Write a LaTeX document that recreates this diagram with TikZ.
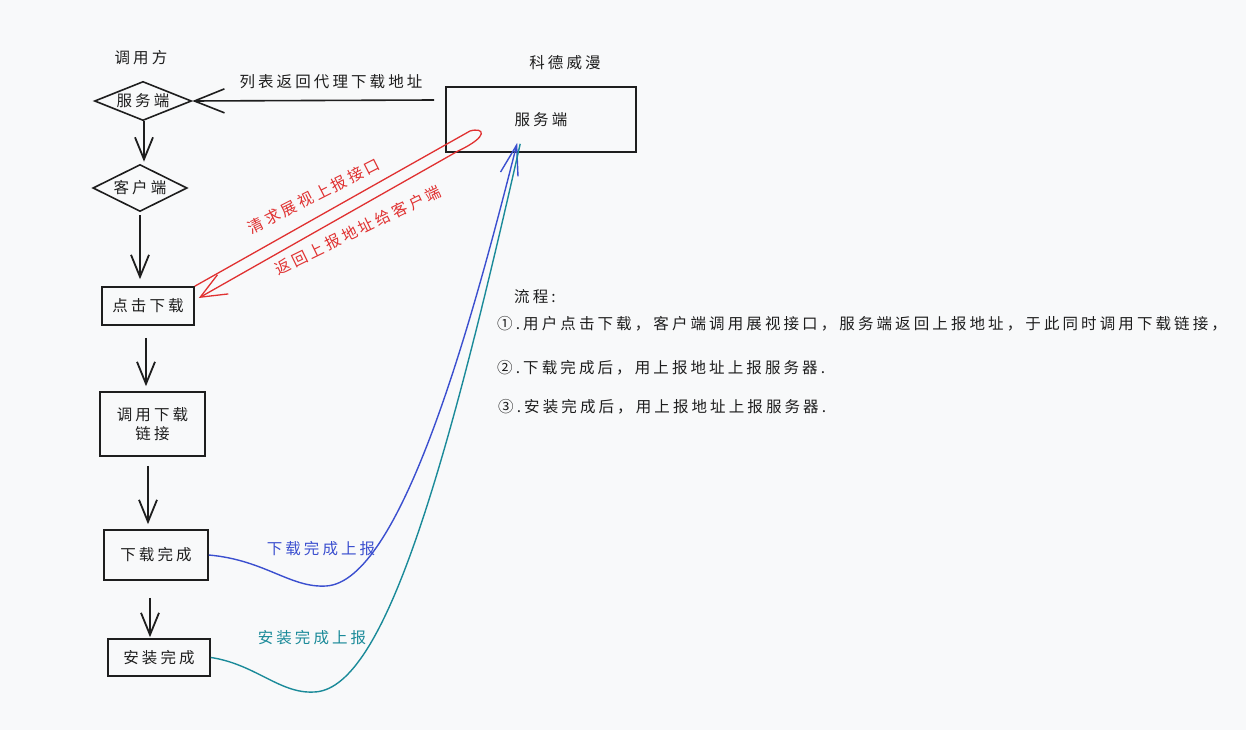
\documentclass[tikz,border=0pt]{standalone}
\usepackage{fontspec}
\setmainfont{Noto Sans CJK SC}
\newfontfamily\cjk[LetterSpace=20]{Noto Sans CJK SC}
\usetikzlibrary{arrows.meta,shapes.geometric,calc}
\definecolor{bgc}{HTML}{F8F9FA}
\definecolor{ink}{HTML}{1E1E1E}
\definecolor{redc}{HTML}{E03131}
\definecolor{bluec}{HTML}{3B4FCF}
\definecolor{tealc}{HTML}{1A8A99}
\tikzset{
  txt/.style={font=\cjk\fontsize{15.5}{19}\selectfont, text=ink, inner sep=1pt},
  boxnode/.style={draw=ink, line width=1.6pt, txt, align=center},
  dianode/.style={draw=ink, line width=1.6pt, diamond, aspect=2.4, inner sep=0pt, txt},
  flowarr/.style={draw=ink, line width=1.8pt, -{Straight Barb[length=22pt,width=18pt]}},
  listarr/.style={draw=ink, line width=1.6pt, -{Straight Barb[length=30pt,width=24pt]}},
  redarr/.style={draw=redc, line width=1.3pt, -{Straight Barb[length=26pt,width=22pt]}},
  bluearr/.style={draw=bluec, line width=1.4pt, -{Straight Barb[length=30pt,width=18pt]}},
  tealarr/.style={draw=tealc, line width=1.4pt},
}
\begin{document}
\begin{tikzpicture}[x=1pt,y=-1pt]
\fill[bgc] (0,0) rectangle (1246,730);
\useasboundingbox (0,0) rectangle (1246,730);

% labels
\node[txt] (caller) at (141,58) {调用方};
\node[txt] (title) at (565,63) {科德威漫};

% left flow
\node[dianode, minimum width=97pt, minimum height=38pt] (d1) at (143,101) {服务端};
\node[dianode, minimum width=89pt, minimum height=47pt] (d2) at (140,188) {客户端};
\node[boxnode, minimum width=92pt, minimum height=38pt] (b1) at (148,306) {点击下载};
\node[boxnode, minimum width=105pt, minimum height=64pt] (b2) at (152.5,424) {调用下载\\链接};
\node[boxnode, minimum width=104pt, minimum height=50pt] (b3) at (156,555) {下载完成};
\node[boxnode, minimum width=102pt, minimum height=37pt] (b4) at (159,657.5) {安装完成};

% server box
\node[boxnode, minimum width=190pt, minimum height=65pt] (srv) at (541,119.5) {服务端};

% vertical arrows
\draw[flowarr, shorten >=2pt] ($(d1.south)+(1,0)$) -- ($(d1.south |- d2.north)+(1,0)$);
\draw[flowarr, shorten <=3pt, shorten >=7pt] (d2.south) -- (d2.south |- b1.north);
\draw[flowarr, shorten <=12pt, shorten >=5pt] ($(b1.south)+(-2,0)$) -- ($(b1.south |- b2.north)+(-2,0)$);
\draw[flowarr, shorten <=9pt, shorten >=5pt] ($(b2.south)+(-4.5,0)$) -- ($(b2.south |- b3.north)+(-4.5,0)$);
\draw[flowarr, shorten <=17pt, shorten >=1pt] ($(b3.south)+(-6,0)$) -- ($(b3.south |- b4.north)+(-6,0)$);

% list return arrow
\coordinate (la) at ($(srv.west)+(-11,-19.5)$);
\draw[listarr] (la) -- (d1.east);
\node[txt] (lalbl) at (331,82) {列表返回代理下载地址};

% red loop arrow
\coordinate (r1) at (470,131);
\coordinate (r2) at (484,127);
\coordinate (r3) at (490,136);
\coordinate (r4) at (458,151);
\coordinate (rend) at ($(b1.east)+(4,-8)$);
\draw[redarr] (b1.north east) -- (r1) .. controls (r2) and (r3) .. (r4) -- (rend);
\node[txt, text=redc, rotate=27] (rl1) at (314,196) {清求展视上报接口};
\node[txt, text=redc, rotate=26] (rl2) at (358,230) {返回上报地址给客户端};

% blue curve
\coordinate (bm) at (326,586);
\coordinate (btip) at ($(srv.south west)+(72,-10)$);
\draw[bluearr] (b3.east) .. controls (265,560) and (290,588) .. (bm) .. controls (400,582) and (470,330) .. (btip);
\node[txt, text=bluec] (bl) at (321,549) {下载完成上报};

% teal curve
\coordinate (tm) at (314,692);
\coordinate (ttip) at ($(srv.south west)+(75,-9)$);
\draw[tealarr] (b4.east) .. controls (255,664) and (280,694) .. (tm) .. controls (380,690) and (440,500) .. (ttip);
\node[txt, text=tealc] (tl) at (312,638) {安装完成上报};

% flow description
\node[txt, anchor=west] (fh) at (513,297) {流程:};
\node[txt, anchor=west] (f1) at (496,324) {①.用户点击下载，客户端调用展视接口，服务端返回上报地址，于此同时调用下载链接，};
\node[txt, anchor=west] (f2) at (496,368) {②.下载完成后，用上报地址上报服务器.};
\node[txt, anchor=west] (f3) at (497,407) {③.安装完成后，用上报地址上报服务器.};
\end{tikzpicture}
\end{document}
